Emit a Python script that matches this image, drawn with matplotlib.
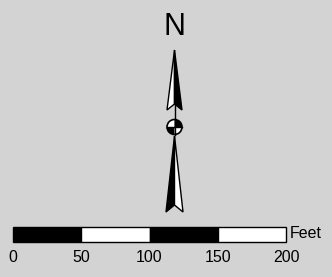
import matplotlib
matplotlib.use("Agg")
import matplotlib.pyplot as plt
from matplotlib.patches import Polygon, Wedge, Circle

# Scale bar data
scale_ticks = [0, 50, 100, 150, 200]
scale_unit = "Feet"
north_label = "N"

bg = "#d3d3d3"
W, H = 332, 277

fig = plt.figure(figsize=(W / 100, H / 100), dpi=100, facecolor=bg)
plt.rcParams['font.family'] = ['Liberation Sans', 'DejaVu Sans']

# main axes in pixel units for the north arrow
ax = fig.add_axes([0, 0, 1, 1])
ax.set_xlim(0, W)
ax.set_ylim(H, 0)
ax.axis("off")

cx = 174.5
# upper arrowhead: left half white, right half black
ax.add_patch(Polygon([(cx, 50), (167, 110), (cx, 104)], closed=True,
                     facecolor="white", edgecolor="black", lw=1))
ax.add_patch(Polygon([(cx, 50), (cx, 104), (182, 110)], closed=True,
                     facecolor="black", edgecolor="black", lw=1))
ax.plot([cx, cx], [104, 135], color="black", lw=1)
# centre circle
ax.add_patch(Circle((cx, 127), 7.5, facecolor="white", edgecolor="black", lw=1.2))
ax.add_patch(Wedge((cx, 127), 7.5, 90, 180, facecolor="black"))
ax.add_patch(Wedge((cx, 127), 7.5, 270, 360, facecolor="black"))
ax.plot([cx - 7.5, cx + 7.5], [127, 127], color="black", lw=1)
# lower arrow: left half black, right half white
ax.add_patch(Polygon([(cx, 136), (166, 212), (cx, 205)], closed=True,
                     facecolor="black", edgecolor="black", lw=1))
ax.add_patch(Polygon([(cx, 136), (cx, 205), (183, 212)], closed=True,
                     facecolor="white", edgecolor="black", lw=1))
ax.text(cx, 27, north_label, ha="center", va="center", fontsize=22)

# scale bar axes: x in feet
sx = fig.add_axes([13 / W, 0, 273 / W, 1])
sx.set_xlim(scale_ticks[0], scale_ticks[-1])
sx.set_ylim(H, 0)
sx.axis("off")
for i in range(len(scale_ticks) - 1):
    a, b = scale_ticks[i], scale_ticks[i + 1]
    sx.bar(a, 15, width=b - a, bottom=227, align="edge",
           color="black" if i % 2 == 0 else "white",
           edgecolor="black", lw=1, clip_on=False)
for t in scale_ticks:
    sx.text(t, 258, str(t), ha="center", va="center", fontsize=11.5,
            clip_on=False)
sx.text(scale_ticks[-1] + 3, 233, scale_unit, ha="left", va="center",
        fontsize=11.5, clip_on=False)

fig.savefig("out.png", dpi=100, facecolor=bg)
